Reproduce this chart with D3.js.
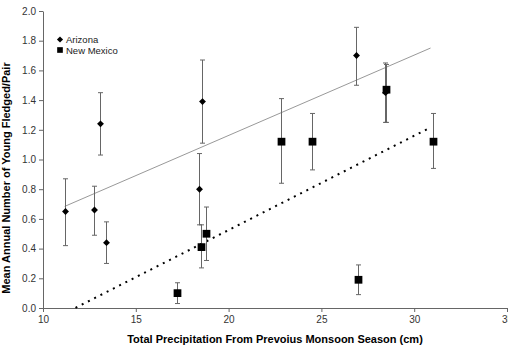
<!DOCTYPE html>
<html>
<head>
<meta charset="utf-8">
<script src="https://cdn.jsdelivr.net/npm/d3@7"></script>
<style>
  body { margin: 0; background: #fff; }
  svg { font-family: Arial, "Liberation Sans", sans-serif; }
</style>
</head>
<body>
<svg id="chart" width="508" height="350"></svg>
<script>
// Arizona: precipitation (cm), mean fledged, error low/high
const azX   = [11.17, 12.75, 13.38, 13.05, 18.57, 18.40, 26.87, 28.45];
const azY   = [0.65, 0.66, 0.44, 1.24, 1.39, 0.80, 1.70, 1.45];
const azLo  = [0.42, 0.49, 0.30, 1.03, 1.11, 0.56, 1.50, 1.25];
const azHi  = [0.87, 0.82, 0.58, 1.45, 1.67, 1.04, 1.89, 1.65];

// New Mexico
const nmX   = [17.24, 18.50, 18.77, 22.82, 24.51, 28.48, 31.00, 26.95];
const nmY   = [0.10, 0.41, 0.50, 1.12, 1.12, 1.47, 1.12, 0.19];
const nmLo  = [0.03, 0.27, 0.32, 0.84, 0.93, 1.25, 0.94, 0.09];
const nmHi  = [0.17, 0.56, 0.68, 1.41, 1.31, 1.64, 1.31, 0.29];

// linear trendlines [x start, x end], slope, intercept
const azTrendX = [11.17, 30.88];
const azTrend = { slope: 0.0541, intercept: 0.080 };
const nmTrendX = [11.75, 30.88];
const nmTrend = { slope: 0.0635, intercept: -0.745 };

const xTicks = [10, 15, 20, 25, 30, 35];
const yTicks = [0, 0.2, 0.4, 0.6, 0.8, 1.0, 1.2, 1.4, 1.6, 1.8, 2.0];
const seriesNames = ["Arizona", "New Mexico"];

const svg = d3.select("#chart");
const plotLeft = 43, plotRight = 507, plotTop = 11, plotBottom = 308;

const x = d3.scaleLinear().domain([10, 35]).range([plotLeft, plotRight]);
const y = d3.scaleLinear().domain([0, 2]).range([plotBottom, plotTop]);

const axisColor = "#666";

// Y axis
const gy = svg.append("g")
  .attr("transform", `translate(${plotLeft},0)`)
  .call(d3.axisLeft(y).tickValues(yTicks).tickFormat(d3.format(".1f")).tickSize(4).tickSizeOuter(0));
// X axis
const gx = svg.append("g")
  .attr("transform", `translate(0,${plotBottom})`)
  .call(d3.axisBottom(x).tickValues(xTicks).tickFormat(d3.format("d")).tickSize(4).tickSizeOuter(0));

[gx, gy].forEach(g => {
  g.select(".domain").attr("stroke", axisColor);
  g.selectAll(".tick line").attr("stroke", axisColor);
  g.selectAll(".tick text").attr("fill", "#333").style("font-size", "10px");
});
gy.selectAll(".tick text").attr("x", -7);
gx.selectAll(".tick text").attr("y", 8);

// trendlines
svg.append("line")
  .attr("x1", x(azTrendX[0])).attr("y1", y(azTrend.slope * azTrendX[0] + azTrend.intercept))
  .attr("x2", x(azTrendX[1])).attr("y2", y(azTrend.slope * azTrendX[1] + azTrend.intercept))
  .attr("stroke", "#999").attr("stroke-width", 1);

svg.append("line")
  .attr("x1", x(nmTrendX[0])).attr("y1", y(nmTrend.slope * nmTrendX[0] + nmTrend.intercept))
  .attr("x2", x(nmTrendX[1])).attr("y2", y(nmTrend.slope * nmTrendX[1] + nmTrend.intercept))
  .attr("stroke", "#000").attr("stroke-width", 2).attr("stroke-dasharray", "2,5");

// error bars
function errorBars(xs, lo, hi) {
  const g = svg.append("g").attr("stroke", "#666").attr("stroke-width", 1);
  xs.forEach((v, i) => {
    const px = Math.round(x(v)) + 0.5;
    g.append("line").attr("x1", px).attr("x2", px).attr("y1", y(lo[i])).attr("y2", y(hi[i]));
    g.append("line").attr("x1", px - 2.5).attr("x2", px + 2.5).attr("y1", y(lo[i])).attr("y2", y(lo[i]));
    g.append("line").attr("x1", px - 2.5).attr("x2", px + 2.5).attr("y1", y(hi[i])).attr("y2", y(hi[i]));
  });
}
errorBars(azX, azLo, azHi);
errorBars(nmX, nmLo, nmHi);

const diamond = d3.symbol().type(d3.symbolDiamond2).size(30);
const square = d3.symbol().type(d3.symbolSquare).size(60);

svg.append("g").selectAll("path")
  .data(azX.map((v, i) => [v, azY[i]]))
  .join("path")
  .attr("d", diamond)
  .attr("transform", d => `translate(${Math.round(x(d[0])) + 0.5},${y(d[1])})`)
  .attr("fill", "#000");

svg.append("g").selectAll("path")
  .data(nmX.map((v, i) => [v, nmY[i]]))
  .join("path")
  .attr("d", square)
  .attr("transform", d => `translate(${Math.round(x(d[0])) + 0.5},${y(d[1])})`)
  .attr("fill", "#000");

// legend
const legend = svg.append("g").attr("transform", "translate(60,39.5)");
legend.append("path").attr("d", d3.symbol().type(d3.symbolDiamond2).size(24)).attr("fill", "#000");
legend.append("path").attr("d", d3.symbol().type(d3.symbolSquare).size(32))
  .attr("transform", "translate(0,10.5)").attr("fill", "#000");
legend.selectAll("text")
  .data(seriesNames)
  .join("text")
  .attr("x", 6)
  .attr("y", (d, i) => i * 10.5 + 3.5)
  .style("font-size", "9.5px")
  .attr("fill", "#222")
  .text(d => d);

// axis titles
svg.append("text")
  .attr("x", 275)
  .attr("y", 343)
  .attr("text-anchor", "middle")
  .style("font-size", "11px")
  .style("font-weight", "bold")
  .text("Total Precipitation From Prevoius Monsoon Season (cm)");

svg.append("text")
  .attr("transform", "translate(10,178) rotate(-90)")
  .attr("text-anchor", "middle")
  .style("font-size", "11px")
  .style("font-weight", "bold")
  .text("Mean Annual Number of Young Fledged/Pair");
</script>
</body>
</html>
